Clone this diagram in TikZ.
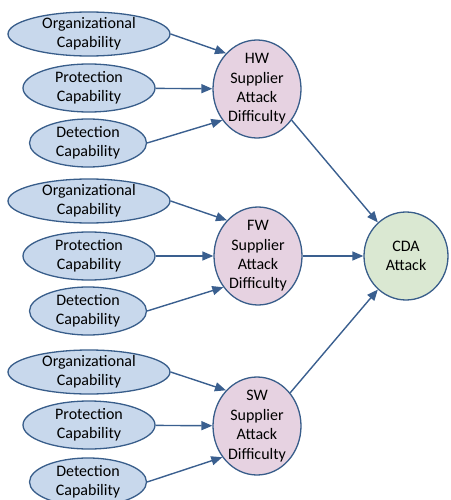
\documentclass[tikz,border=0pt]{standalone}
\usepackage{fontspec}
\setmainfont{Carlito}
\usetikzlibrary{shapes.geometric,arrows.meta}
\definecolor{capfill}{RGB}{200,216,236}
\definecolor{edgeblue}{RGB}{56,93,138}
\definecolor{arrowblue}{RGB}{58,95,143}
\definecolor{suppfill}{RGB}{230,210,225}
\definecolor{cdafill}{RGB}{218,232,210}
\begin{document}
\begin{tikzpicture}[x=1pt,y=-1pt,
  every node/.style={font=\fontsize{16}{19.4}\selectfont, align=center, text=black},
  capnode/.style={ellipse, draw=edgeblue, line width=1.3pt, fill=capfill, inner sep=-2.5pt},
  orgnode/.style={capnode, minimum width=162pt, minimum height=44pt},
  protnode/.style={capnode, minimum width=132pt, minimum height=48pt},
  detnode/.style={capnode, minimum width=117pt, minimum height=48pt},
  suppnode/.style={ellipse, draw=edgeblue, line width=1.3pt, fill=suppfill, inner sep=-2.5pt, minimum width=88pt, minimum height=98pt},
  cdanode/.style={ellipse, draw=edgeblue, line width=1.3pt, fill=cdafill, inner sep=-2pt, minimum width=84pt, minimum height=88pt},
  arr/.style={draw=arrowblue, line width=1.4pt, -{Triangle[length=11pt,width=9pt]}}
]
\useasboundingbox (0,0) rectangle (450,500);

% group 1
\node[orgnode]  (org1)  at (89,34)  {Organizational\\Capability};
\node[protnode] (prot1) at (89,88)  {Protection\\Capability};
\node[detnode]  (det1)  at (88,143) {Detection\\Capability};
\node[suppnode] (hw)    at (257,89) {HW\\Supplier\\Attack\\Difficulty};

% group 2
\node[orgnode]  (org2)  at (89,201) {Organizational\\Capability};
\node[protnode] (prot2) at (89,256) {Protection\\Capability};
\node[detnode]  (det2)  at (88,311) {Detection\\Capability};
\node[suppnode] (fw)    at (258,256) {FW\\Supplier\\Attack\\Difficulty};

% group 3
\node[orgnode]  (org3)  at (89,372) {Organizational\\Capability};
\node[protnode] (prot3) at (89,425) {Protection\\Capability};
\node[detnode]  (det3)  at (88,482) {Detection\\Capability};
\node[suppnode] (sw)    at (257,426) {SW\\Supplier\\Attack\\Difficulty};

\node[cdanode] (cda) at (406,256) {CDA\\Attack};

\draw[arr] (org1.east) -- (hw.131);
\draw[arr] (prot1) -- (hw);
\draw[arr] (det1.east) -- (hw.222);

\draw[arr] (org2.east) -- (fw.131);
\draw[arr] (prot2) -- (fw);
\draw[arr] (det2.east) -- (fw.222);

\draw[arr] (org3.east) -- (sw.131);
\draw[arr] (prot3) -- (sw);
\draw[arr] (det3.east) -- (sw.222);

\draw[arr] (hw.318) -- (cda.130);
\draw[arr] (fw) -- (cda);
\draw[arr] (sw.45) -- (cda.230);
\end{tikzpicture}
\end{document}
